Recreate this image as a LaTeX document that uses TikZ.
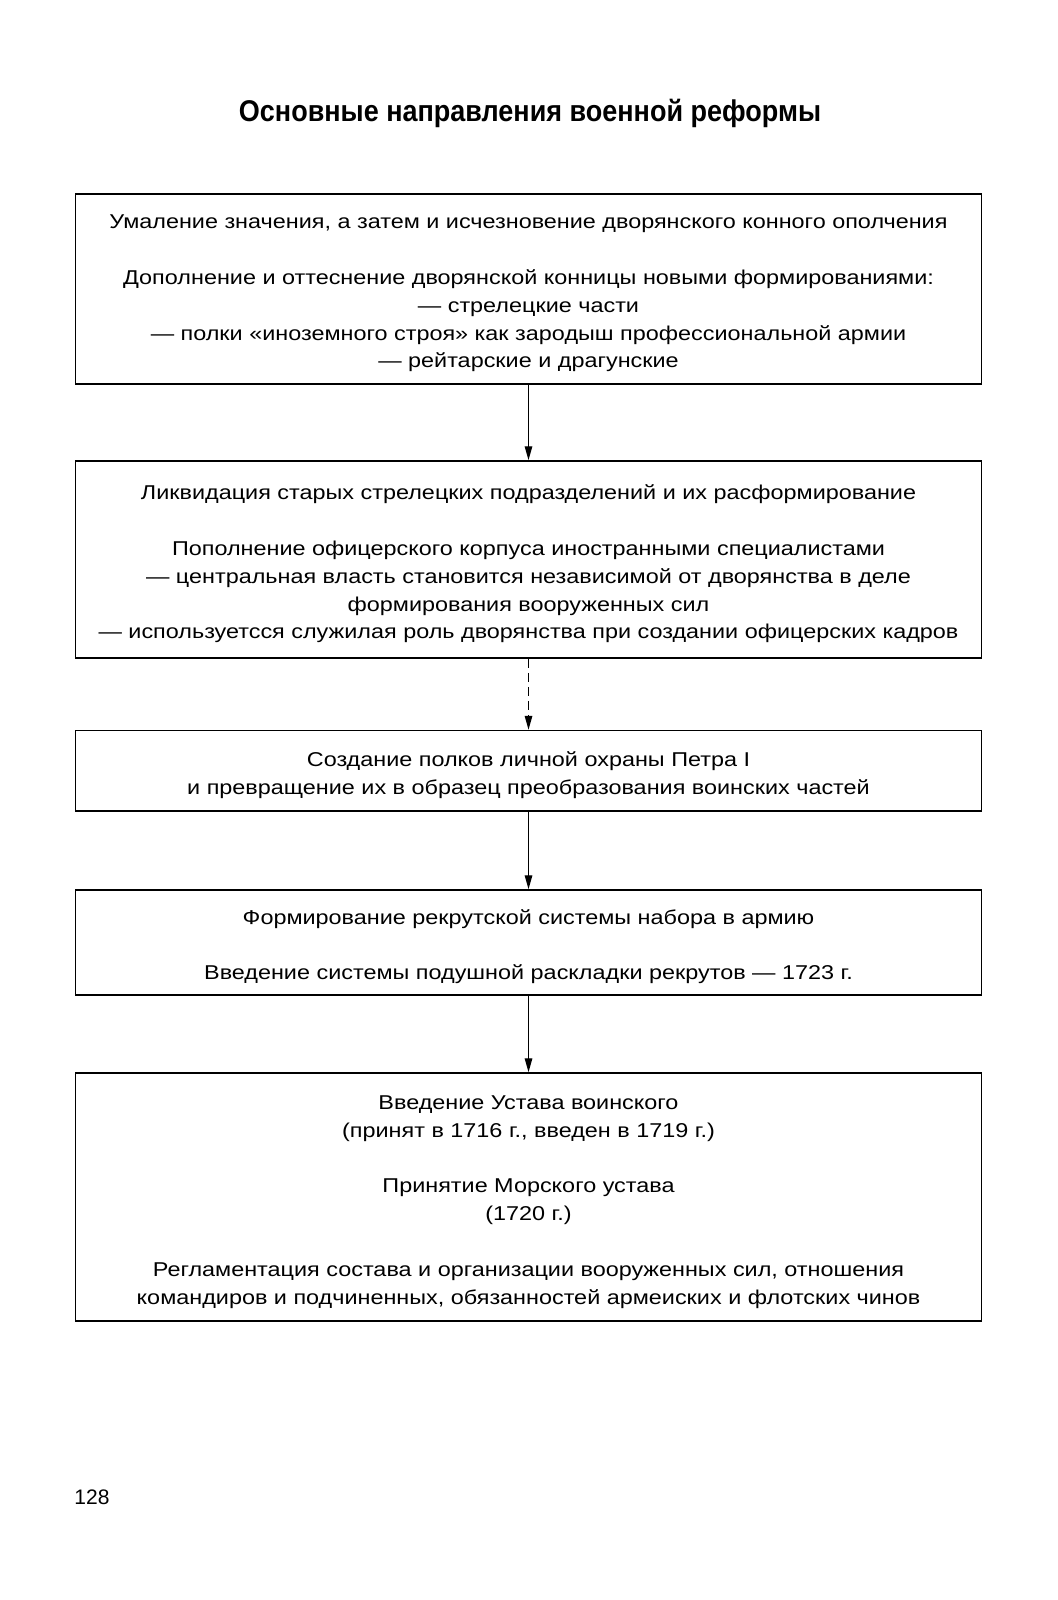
\documentclass[tikz,border=0pt]{standalone}
\usepackage{fontspec}
\setmainfont{Liberation Sans}
\newfontfamily\titlefont{Liberation Sans}[FakeStretch=0.9]
\newfontfamily\boxfont{Liberation Sans}[FakeStretch=1.17]
\usetikzlibrary{arrows.meta}
\tikzset{
  reformbox/.style={draw, line width=1.5pt, minimum width=906pt, inner sep=0pt},
  reformtext/.style={inner sep=0pt, align=center, font=\boxfont\fontsize{20}{27.8}\selectfont},
  flow/.style={line width=1.4pt, -{Triangle[length=14pt,width=7.5pt]}},
  dflow/.style={flow, dash pattern=on 9pt off 5pt}
}
\begin{document}
\begin{tikzpicture}[x=1pt,y=-1pt]
  \useasboundingbox (0,0) rectangle (1057,1600);

  \node (title) at (530,113) {\titlefont\bfseries\fontsize{30}{34}\selectfont Основные направления военной реформы};

  % boxes
  \node[reformbox, minimum height=190pt] (cavalry) at (528.5,289) {};
  \node[reformbox, minimum height=197pt] (officers) at (528.5,559.5) {};
  \node[reformbox, minimum height=80.5pt] (guards) at (528.5,770.75) {};
  \node[reformbox, minimum height=105pt] (recruits) at (528.5,942.5) {};
  \node[reformbox, minimum height=248pt] (statutes) at (528.5,1197) {};

  % texts
  \node[reformtext] (cavalrytext) at ([yshift=-4.5pt]cavalry.center)
    {Умаление значения, а затем и исчезновение дворянского конного ополчения\\[27.8pt]
     Дополнение и оттеснение дворянской конницы новыми формированиями:\\
     — стрелецкие части\\
     — полки «иноземного строя» как зародыш профессиональной армии\\
     — рейтарские и драгунские};
  \node[reformtext] (officerstext) at ([yshift=-4.5pt]officers.center)
    {Ликвидация старых стрелецких подразделений и их расформирование\\[27.8pt]
     Пополнение офицерского корпуса иностранными специалистами\\
     — центральная власть становится независимой от дворянства в деле\\
     формирования вооруженных сил\\
     — используетсся служилая роль дворянства при создании офицерских кадров};
  \node[reformtext] (guardstext) at ([yshift=-4pt]guards.center)
    {Создание полков личной охраны Петра I\\
     и превращение их в образец преобразования воинских частей};
  \node[reformtext] (recruitstext) at ([yshift=-4pt]recruits.center)
    {Формирование рекрутской системы набора в армию\\[27.8pt]
     Введение системы подушной раскладки рекрутов — 1723 г.};
  \node[reformtext] (statutestext) at ([yshift=-5pt]statutes.center)
    {Введение Устава воинского\\
     (принят в 1716 г., введен в 1719 г.)\\[27.8pt]
     Принятие Морского устава\\
     (1720 г.)\\[27.8pt]
     Регламентация состава и организации вооруженных сил, отношения\\
     командиров и подчиненных, обязанностей армеиских и флотских чинов};

  \draw[flow] (cavalry.south) -- (officers.north);
  \draw[dflow] (officers.south) -- (guards.north);
  \draw[flow] (guards.south) -- (recruits.north);
  \draw[flow] (recruits.south) -- (statutes.north);

  \node (page) at (92,1497) {\fontsize{21}{24}\selectfont 128};
\end{tikzpicture}
\end{document}
